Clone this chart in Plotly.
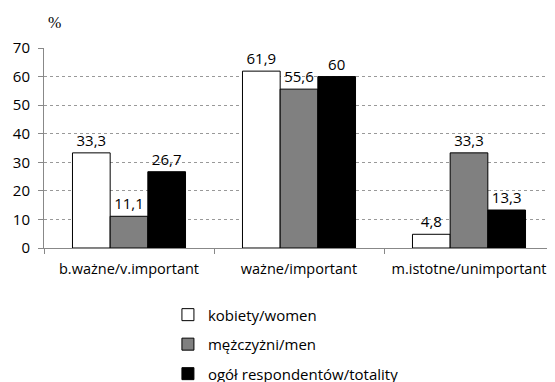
import plotly.graph_objects as go

categories = ["b.ważne/v.important", "ważne/important", "m.istotne/unimportant"]
women = [33.3, 61.9, 4.8]
men = [11.1, 55.6, 33.3]
total = [26.7, 60, 13.3]
series_names = ["kobiety/women", "mężczyżni/men", "ogół respondentów/totality"]
colors = ["#ffffff", "#808080", "#000000"]

FONT = "Open Sans"
FS = 15

def fmt(v):
    return ("%g" % v).replace(".", ",")

fig = go.Figure()
for i, (name, vals, col) in enumerate(zip(series_names, [women, men, total], colors)):
    fig.add_trace(go.Bar(
        x=categories, y=vals, name=name,
        marker=dict(color=col, line=dict(color="#000000", width=1)),
        text=[fmt(v) for v in vals], textposition="outside", textangle=0,
        constraintext="none",
        textfont=dict(family=FONT, size=FS, color="#000000"),
        cliponaxis=False, legendgroup=str(i),
    ))

fig.update_layout(
    width=555, height=382,
    margin=dict(l=36, r=9, t=40, b=142, autoexpand=False),
    paper_bgcolor="white", plot_bgcolor="white",
    barmode="group", bargap=0.335, bargroupgap=0,
    font=dict(family=FONT, size=FS, color="#000000"),
    showlegend=True,
    legend=dict(x=0.243, y=-0.252, xanchor="left", yanchor="top", tracegroupgap=7,
                font=dict(family=FONT, size=FS), itemwidth=30),
    xaxis=dict(showline=True, linecolor="#888888", linewidth=1,
               ticks="outside", tickson="boundaries", ticklen=5, tickcolor="#888888",
               ticklabelstandoff=8,
               tickangle=0, tickfont=dict(family=FONT, size=14.5), showgrid=False),
    yaxis=dict(range=[0, 70], dtick=10, showline=True, linecolor="#888888", linewidth=1,
               ticks="outside", ticklen=5, tickcolor="#888888", ticklabelstandoff=5,
               showgrid=True, gridcolor="#999999", griddash="dot", gridwidth=1,
               zeroline=False, tickfont=dict(family=FONT, size=FS)),
    annotations=[dict(text="%", xref="paper", yref="paper", x=0.004, y=1.13,
                      xanchor="left", yanchor="middle", showarrow=False,
                      font=dict(family="Liberation Serif", size=16))],
)

fig.write_html("out.html")
